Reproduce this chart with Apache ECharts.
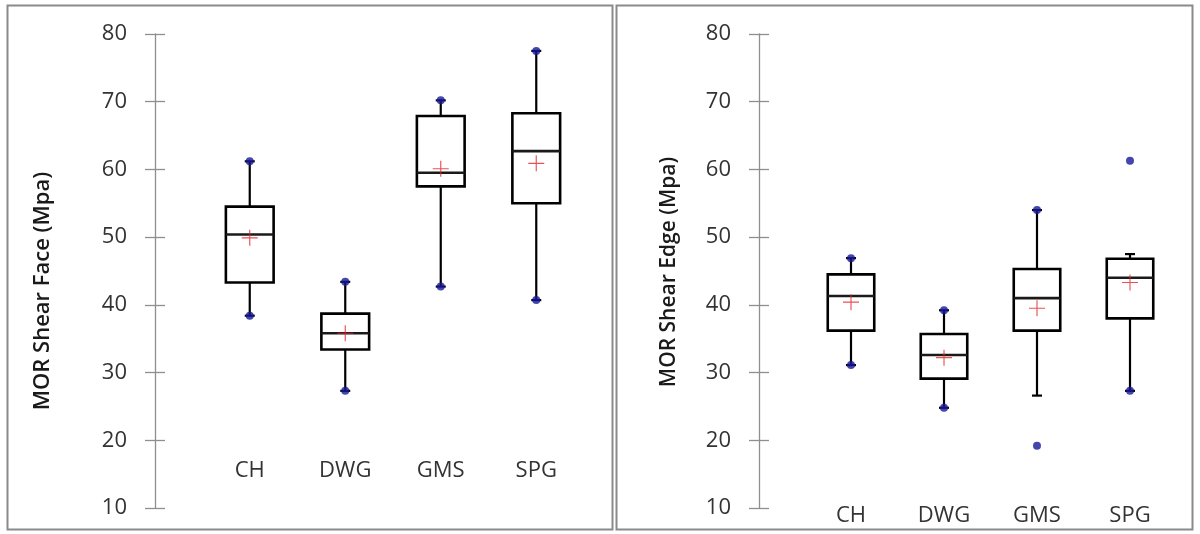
<!DOCTYPE html>
<html>
<head>
<meta charset="utf-8">
<script src="https://cdn.jsdelivr.net/npm/echarts@6/dist/echarts.min.js"></script>
<style>html,body{margin:0;padding:0;background:#fff}#c{width:1200px;height:534px}</style>
</head>
<body>
<div id="c"></div>
<script>
const categories = ['CH', 'DWG', 'GMS', 'SPG'];
const yTicks = [10, 20, 30, 40, 50, 60, 70, 80];

// MOR Shear Face (Mpa)
const faceLow  = [38.4, 27.3, 42.7, 40.7];
const faceQ1   = [43.3, 33.4, 57.5, 55.0];
const faceMed  = [50.4, 35.8, 59.5, 62.7];
const faceQ3   = [54.5, 38.7, 67.9, 68.3];
const faceHigh = [61.2, 43.4, 70.2, 77.5];
const faceMean = [49.9, 35.8, 60.1, 60.9];
const faceMin  = [38.4, 27.3, 42.7, 40.7];
const faceMax  = [61.2, 43.4, 70.2, 77.5];

// MOR Shear Edge (Mpa)
const edgeLow  = [31.1, 24.8, 26.6, 27.3];
const edgeQ1   = [36.2, 29.1, 36.2, 38.0];
const edgeMed  = [41.3, 32.6, 41.0, 44.0];
const edgeQ3   = [44.5, 35.7, 45.3, 46.8];
const edgeHigh = [46.9, 39.2, 54.0, 47.5];
const edgeMean = [40.4, 32.2, 39.5, 43.3];
const edgeMin  = [31.1, 24.8, 19.2, 27.3];
const edgeMax  = [46.9, 39.2, 54.0, 61.3];

const FONT = 'Open Sans';
const chart = echarts.init(document.getElementById('c'), null, {renderer: 'canvas'});

function boxRender(params, api) {
  const i = api.value(0);
  const pLow = api.coord([i, api.value(1)]);
  const pQ1 = api.coord([i, api.value(2)]);
  const pMed = api.coord([i, api.value(3)]);
  const pQ3 = api.coord([i, api.value(4)]);
  const pHigh = api.coord([i, api.value(5)]);
  const bw = api.size([1, 0])[0] * 0.5;
  const x = pMed[0];
  const cap = 10;
  const ls = {stroke: '#000', lineWidth: 2.2};
  return {
    type: 'group',
    children: [
      {type: 'line', shape: {x1: x, y1: pHigh[1], x2: x, y2: pQ3[1]}, style: ls},
      {type: 'line', shape: {x1: x, y1: pQ1[1], x2: x, y2: pLow[1]}, style: ls},
      {type: 'line', shape: {x1: x - cap / 2, y1: pHigh[1], x2: x + cap / 2, y2: pHigh[1]}, style: ls},
      {type: 'line', shape: {x1: x - cap / 2, y1: pLow[1], x2: x + cap / 2, y2: pLow[1]}, style: ls},
      {type: 'rect', shape: {x: x - bw / 2, y: pQ3[1], width: bw, height: pQ1[1] - pQ3[1]},
        style: {fill: '#fff', stroke: '#000', lineWidth: 2.6}},
      {type: 'line', shape: {x1: x - bw / 2, y1: pMed[1], x2: x + bw / 2, y2: pMed[1]},
        style: {stroke: '#1a1a1a', lineWidth: 2.6}}
    ]
  };
}

const plusPath = 'path://M0,6.5H14V7.5H0Z M6.5,0H7.5V14H6.5Z';

function panelSeries(gi, low, q1, med, q3, high, mean, mn, mx) {
  const boxData = categories.map((c, i) => [i, low[i], q1[i], med[i], q3[i], high[i]]);
  const ext = [];
  categories.forEach((c, i) => { ext.push([i, mn[i]]); ext.push([i, mx[i]]); });
  const means = categories.map((c, i) => [i, mean[i]]);
  return [
    {type: 'custom', xAxisIndex: gi, yAxisIndex: gi * 2, renderItem: boxRender, data: boxData, z: 2, silent: true},
    {type: 'scatter', xAxisIndex: gi, yAxisIndex: gi * 2, data: ext, symbol: 'circle', symbolSize: 8,
      itemStyle: {color: '#16169a'}, z: 3, silent: true},
    {type: 'scatter', xAxisIndex: gi, yAxisIndex: gi * 2, data: means, symbol: plusPath, symbolSize: 16,
      itemStyle: {color: '#e3262b'}, z: 4, silent: true}
  ];
}

function yAx(gi, offset, inside) {
  return {
    type: 'value', gridIndex: gi, min: yTicks[0], max: yTicks[yTicks.length - 1], interval: 10,
    position: 'left', offset: offset,
    splitLine: {show: false},
    axisLine: {show: !inside, lineStyle: {color: '#8f8f8f', width: 1.3}},
    axisTick: {show: true, inside: inside, length: 10, lineStyle: {color: '#8f8f8f', width: 1.3}},
    axisLabel: {show: !inside, margin: 28, fontFamily: FONT, fontSize: 22, color: '#333'}
  };
}

function xAx(gi, offset, margin) {
  return {
    type: 'category', gridIndex: gi, data: categories, position: 'bottom', offset: offset,
    axisLine: {show: false}, axisTick: {show: false},
    axisLabel: {margin: margin, fontFamily: FONT, fontSize: 22, color: '#333'}
  };
}

const option = {
  animation: false,
  backgroundColor: '#fff',
  grid: [
    {left: 202, top: 34, width: 382, height: 474},
    {left: 804.5, top: 34, width: 372, height: 474}
  ],
  xAxis: [xAx(0, -48, 0), xAx(1, -3, 0)],
  yAxis: [yAx(0, 47, false), yAx(0, 47, true), yAx(1, 45.5, false), yAx(1, 45.5, true)],
  series: [].concat(
    panelSeries(0, faceLow, faceQ1, faceMed, faceQ3, faceHigh, faceMean, faceMin, faceMax),
    panelSeries(1, edgeLow, edgeQ1, edgeMed, edgeQ3, edgeHigh, edgeMean, edgeMin, edgeMax)
  ),
  graphic: [
    {type: 'rect', shape: {x: 7.5, y: 5.5, width: 605, height: 524}, style: {fill: 'none', stroke: '#8a8a8a', lineWidth: 2}, z: 0},
    {type: 'rect', shape: {x: 616.5, y: 5.5, width: 576, height: 524}, style: {fill: 'none', stroke: '#8a8a8a', lineWidth: 2}, z: 0},
    {type: 'text', x: 43, y: 291, rotation: Math.PI / 2,
      style: {text: 'MOR Shear Face (Mpa)', fontFamily: FONT, fontWeight: 600, fontSize: 22, fill: '#1a1a1a', textAlign: 'center', textVerticalAlign: 'middle'}},
    {type: 'text', x: 669, y: 272, rotation: Math.PI / 2,
      style: {text: 'MOR Shear Edge (Mpa)', fontFamily: FONT, fontWeight: 600, fontSize: 21, fill: '#1a1a1a', textAlign: 'center', textVerticalAlign: 'middle'}}
  ]
};
chart.setOption(option);
</script>
</body>
</html>
